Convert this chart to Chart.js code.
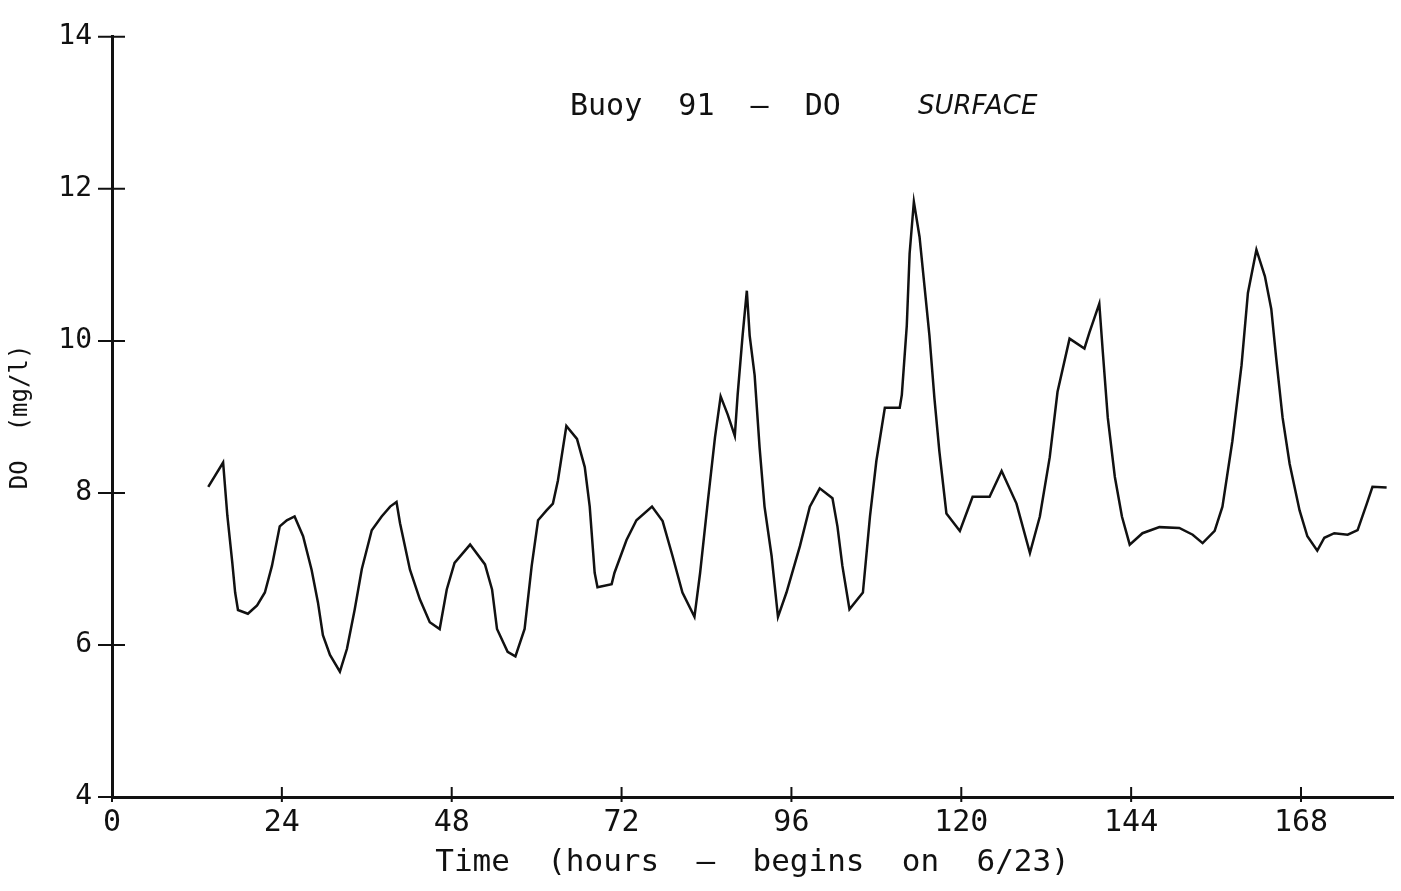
<!DOCTYPE html>
<html>
<head>
<meta charset="utf-8">
<title>Buoy 91 - DO Surface</title>
<script src="https://cdn.jsdelivr.net/npm/chart.js@4.4.1/dist/chart.umd.min.js"></script>
<style>
    html, body { margin: 0; padding: 0; background: #ffffff; }
    #wrap { width: 1401px; height: 891px; position: relative; }
</style>
</head>
<body>
<div id="wrap"><canvas id="doChart"></canvas></div>
<script>
// Hours since start (6/23) and dissolved oxygen
const hours = [
    13.6, 15.7, 16.3, 17.0, 17.4, 17.8, 19.2, 20.5, 21.6, 22.6,
    23.7, 24.7, 25.8, 27.0, 28.2, 29.1, 29.8, 30.8, 32.2, 33.2,
    34.3, 35.3, 36.7, 38.1, 39.3, 40.2, 40.7, 42.1, 43.5, 44.9,
    46.3, 47.3, 48.4, 50.6, 52.7, 53.7, 54.4, 55.9, 57.0, 58.3,
    59.3, 60.2, 61.4, 62.3, 63.0, 64.2, 65.7, 66.8, 67.5, 68.2,
    68.6, 70.6, 71.0, 72.7, 74.1, 76.3, 77.8, 79.2, 80.6, 82.3,
    83.1, 84.2, 85.2, 86.0, 87.0, 88.0, 88.4, 89.1, 89.7, 90.1,
    90.8, 91.5, 92.2, 93.2, 94.1, 95.3, 97.2, 98.6, 100.0, 101.8,
    102.5, 103.2, 104.2, 106.1, 107.1, 108.0, 109.2, 111.3, 111.6, 112.3,
    112.7, 113.3, 114.1, 114.8, 115.5, 116.2, 116.9, 117.9, 119.8, 121.6,
    124.0, 125.7, 127.8, 129.7, 131.1, 132.5, 133.6, 135.3, 137.4, 138.1,
    139.5, 140.0, 140.7, 141.7, 142.7, 143.8, 145.6, 148.0, 150.8, 152.7,
    154.1, 155.8, 156.9, 158.3, 159.6, 160.5, 161.7, 162.9, 163.8, 164.5,
    165.4, 166.4, 167.8, 168.9, 170.3, 171.3, 172.7, 174.6, 176.0, 177.3, 178.1, 180.1
];
const doValues = [
    8.08, 8.40, 7.70, 7.08, 6.69, 6.46, 6.41, 6.52, 6.69, 7.04,
    7.56, 7.64, 7.69, 7.43, 6.99, 6.56, 6.13, 5.87, 5.65, 5.95,
    6.47, 7.00, 7.51, 7.69, 7.82, 7.88, 7.60, 6.99, 6.60, 6.30,
    6.21, 6.73, 7.08, 7.32, 7.06, 6.73, 6.21, 5.91, 5.85, 6.21,
    7.04, 7.64, 7.77, 7.86, 8.16, 8.88, 8.71, 8.34, 7.82, 6.95,
    6.76, 6.80, 6.95, 7.38, 7.64, 7.82, 7.63, 7.17, 6.69, 6.37,
    6.95, 7.90, 8.73, 9.27, 9.03, 8.75, 9.29, 10.07, 10.66, 10.07,
    9.55, 8.60, 7.82, 7.17, 6.37, 6.69, 7.30, 7.82, 8.06, 7.93,
    7.56, 7.04, 6.47, 6.69, 7.69, 8.42, 9.12, 9.12, 9.29, 10.20,
    11.15, 11.83, 11.37, 10.72, 10.07, 9.25, 8.55, 7.73, 7.50, 7.95,
    7.95, 8.29, 7.86, 7.21, 7.69, 8.47, 9.33, 10.03, 9.90, 10.11,
    10.49, 9.85, 8.99, 8.21, 7.69, 7.32, 7.47, 7.55, 7.54, 7.45,
    7.34, 7.50, 7.82, 8.68, 9.68, 10.63, 11.20, 10.85, 10.42, 9.77,
    8.99, 8.38, 7.77, 7.43, 7.24, 7.41, 7.47, 7.45, 7.51, 7.86, 8.08, 8.07
];

// Axis ticks
const xTickValues = [0, 24, 48, 72, 96, 120, 144, 168];
const yTickValues = [4, 6, 8, 10, 12, 14];

const plotFont = "'DejaVu Sans Mono', monospace";
const ink = '#111';

// Plotter style ticks that cross the axis lines
const crossTicks = {
    id: 'crossTicks',
    afterDraw(chart) {
        const { ctx, chartArea, scales } = chart;
        ctx.save();
        ctx.strokeStyle = ink;
        ctx.lineWidth = 2;
        ctx.beginPath();
        scales.y.ticks.forEach(t => {
            const py = scales.y.getPixelForValue(t.value);
            ctx.moveTo(chartArea.left - 14, py);
            ctx.lineTo(chartArea.left + 13, py);
        });
        scales.x.ticks.forEach(t => {
            const px = scales.x.getPixelForValue(t.value);
            ctx.moveTo(px, chartArea.bottom - 10);
            ctx.lineTo(px, chartArea.bottom + 5);
        });
        ctx.stroke();
        ctx.restore();
    }
};

// Title written inside the plot, like the original plot
const plotTitle = {
    id: 'plotTitle',
    afterDraw(chart) {
        const ctx = chart.ctx;
        ctx.save();
        ctx.fillStyle = ink;
        ctx.textBaseline = 'alphabetic';
        ctx.textAlign = 'left';
        ctx.font = "30px " + plotFont;
        ctx.fillText('Buoy  91  \u2014  DO', 570, 115);
        ctx.font = "italic 26px 'DejaVu Sans'";
        ctx.fillText('SURFACE', 918, 114);
        ctx.restore();
    }
};

const ctx = document.getElementById('doChart').getContext('2d');
const chart = new Chart(ctx, {
    type: 'line',
    data: {
        datasets: [{
            label: 'DO',
            data: hours.map((h, i) => ({ x: h, y: doValues[i] })),
            borderColor: ink,
            borderWidth: 2.5,
            pointRadius: 0,
            tension: 0,
            fill: false
        }]
    },
    options: {
        responsive: true,
        maintainAspectRatio: false,
        animation: false,
        layout: { padding: { top: 28, right: 8, left: 0, bottom: 0 } },
        plugins: {
            legend: { display: false },
            tooltip: { enabled: false },
            title: { display: false }
        },
        scales: {
            x: {
                type: 'linear',
                min: 0,
                max: 181,
                afterBuildTicks: s => { s.ticks = xTickValues.map(v => ({ value: v })); },
                afterFit: s => { s.height = 94; },
                grid: { display: false, drawTicks: false },
                border: { display: true, color: ink, width: 3 },
                ticks: {
                    color: ink,
                    padding: 8,
                    maxRotation: 0,
                    font: { family: plotFont, size: 30 }
                },
                title: {
                    display: true,
                    text: 'Time  (hours  \u2014  begins  on  6/23)',
                    color: ink,
                    padding: { top: 0, bottom: 9 },
                    font: { family: plotFont, size: 31 }
                }
            },
            y: {
                min: 4,
                max: 14,
                afterBuildTicks: s => { s.ticks = yTickValues.map(v => ({ value: v })); },
                afterFit: s => { s.width = 112; },
                grid: { display: false, drawTicks: false },
                border: { display: true, color: ink, width: 3 },
                ticks: {
                    color: ink,
                    padding: 20,
                    font: { family: plotFont, size: 28 }
                },
                title: {
                    display: true,
                    text: 'DO  (mg/l)',
                    color: ink,
                    padding: { top: 6, bottom: 0 },
                    font: { family: plotFont, size: 24 }
                }
            }
        }
    },
    plugins: [crossTicks, plotTitle]
});
</script>
</body>
</html>
